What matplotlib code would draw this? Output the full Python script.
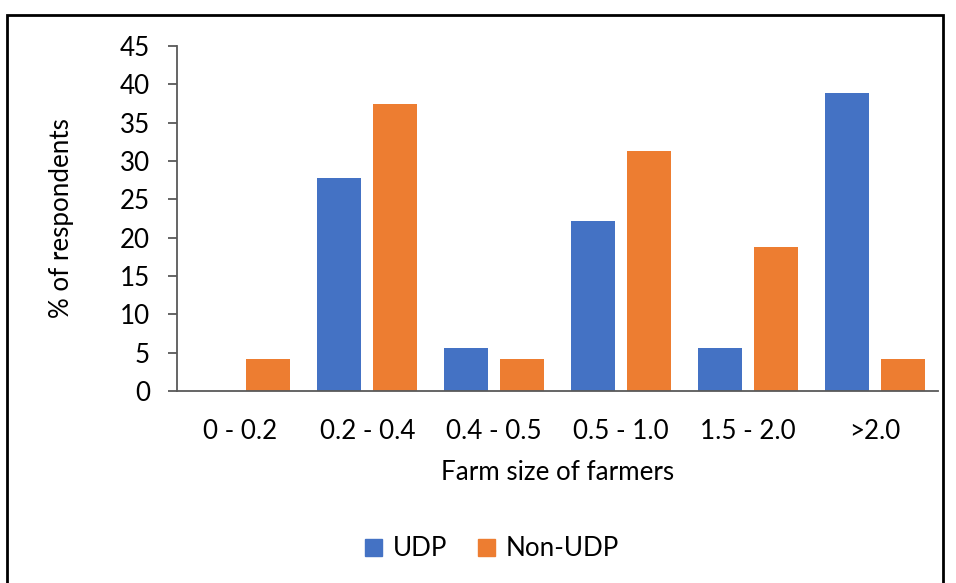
import matplotlib
matplotlib.use("Agg")
import matplotlib.pyplot as plt
import numpy as np
from matplotlib.patches import Patch, Rectangle

plt.rcParams['font.family'] = ['Lato', 'DejaVu Sans']

categories = ['0 - 0.2', '0.2 - 0.4', '0.4 - 0.5', '0.5 - 1.0', '1.5 - 2.0', '>2.0']
udp = [0, 27.8, 5.6, 22.2, 5.6, 38.9]
non_udp = [4.2, 37.5, 4.2, 31.25, 18.75, 4.2]

blue = '#4472C4'
orange = '#ED7D31'
axis_grey = '#595959'
fs = 18.7

fig = plt.figure(figsize=(9.56, 5.83), dpi=100)
ax = fig.add_axes([177 / 956, 1 - 391 / 583, 761 / 956, 345 / 583])

x = np.arange(len(categories))
w = 0.347
off = 0.221
ax.bar(x - off, udp, width=w, color=blue, label='UDP')
ax.bar(x + off, non_udp, width=w, color=orange, label='Non-UDP')

ax.set_xlim(-0.5, len(categories) - 0.5)
ax.set_ylim(0, 45)
ax.set_yticks(range(0, 46, 5))
ax.set_xticks(x)
ax.set_xticklabels(categories)

for s in ['top', 'right']:
    ax.spines[s].set_visible(False)
for s in ['left', 'bottom']:
    ax.spines[s].set_color(axis_grey)
    ax.spines[s].set_linewidth(1.3)

ax.tick_params(axis='y', length=6.5, width=1.3, color=axis_grey, pad=13, labelsize=fs)
ax.tick_params(axis='x', length=0, pad=20, labelsize=fs)

ax.set_xlabel('Farm size of farmers', fontsize=fs, labelpad=12)
ax.set_ylabel('% of respondents', fontsize=fs)
ax.yaxis.set_label_coords((74 - 177) / 761, (391 - 218) / 345)

handles = [Patch(color=blue, label='UDP'), Patch(color=orange, label='Non-UDP')]
fig.legend(handles=handles, loc='center', bbox_to_anchor=(492 / 956, 1 - 549 / 583),
           ncol=2, frameon=False, fontsize=fs, handlelength=0.65, handleheight=0.65,
           handletextpad=0.4, columnspacing=1.2)

# outer frame around the chart
fig.patches.append(Rectangle((7 / 956, -0.05), 936 / 956, 1.05 - 15 / 583,
                             transform=fig.transFigure, fill=False,
                             edgecolor='black', linewidth=2))

fig.savefig('out.png', dpi=100)
